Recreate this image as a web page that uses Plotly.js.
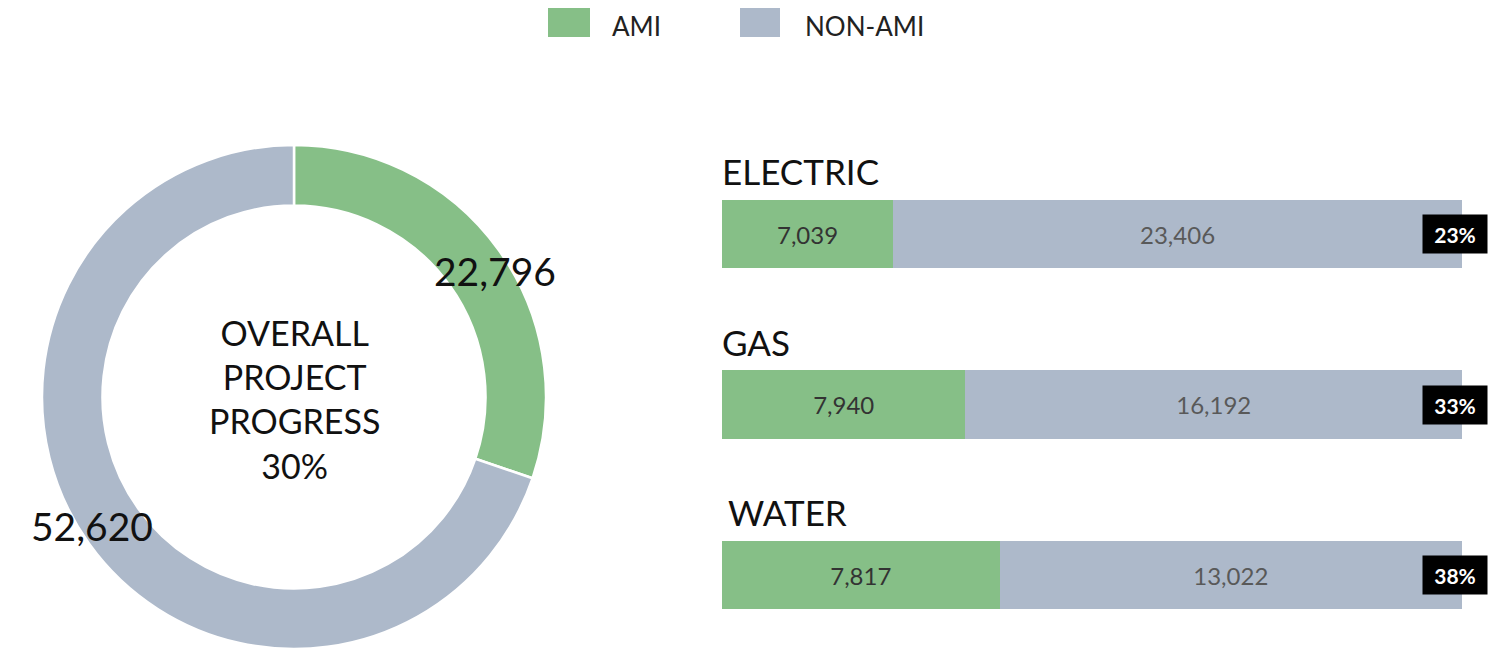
<!DOCTYPE html>
<html><head><meta charset="utf-8">
<script src="https://cdn.plot.ly/plotly-3.0.1.min.js"></script>
<style>html,body{margin:0;padding:0;background:#fff}#chart{width:1488px;height:650px}</style>
</head><body><div id="chart"></div>
<script>
// ---- data ----
const seriesNames = ['AMI', 'NON-AMI'];
const seriesColors = ['#86BF87', '#ADB9CA'];
const overallValues = [22796, 52620];
const overallTitle = ['OVERALL', 'PROJECT', 'PROGRESS'];
const categories = ['ELECTRIC', 'GAS', 'WATER'];
const amiValues = [7039, 7940, 7817];
const nonAmiValues = [23406, 16192, 13022];

// ---- helpers ----
const W = 1488, H = 650;
const px = x => x / W;
const py = y => 1 - y / H;
const fmt = v => v.toLocaleString('en-US');
const pct = (a, b) => Math.round(100 * a / (a + b)) + '%';
const FONT = 'Lato, "Open Sans", sans-serif';

const pie = {
  type: 'pie',
  values: overallValues,
  labels: seriesNames,
  marker: {colors: seriesColors, line: {color: '#ffffff', width: 2.5}},
  hole: 0.76,
  sort: false,
  direction: 'clockwise',
  rotation: 0,
  textinfo: 'none',
  showlegend: false,
  domain: {x: [px(24), px(564)], y: [py(649), py(145)]},
  hoverinfo: 'label+value'
};

const barAmi = {
  type: 'bar', orientation: 'h', name: seriesNames[0],
  y: categories, x: amiValues,
  text: amiValues.map(fmt), textposition: 'inside', insidetextanchor: 'middle', textangle: 0,
  textfont: {family: FONT, size: 24, color: '#333333'},
  marker: {color: seriesColors[0]}, width: 0.4, showlegend: false,
  hovertemplate: '%{y}: %{text}<extra>' + seriesNames[0] + '</extra>'
};
const barNon = {
  type: 'bar', orientation: 'h', name: seriesNames[1],
  y: categories, x: nonAmiValues,
  text: nonAmiValues.map(fmt), textposition: 'inside', insidetextanchor: 'middle', textangle: 0,
  textfont: {family: FONT, size: 24, color: '#595959'},
  marker: {color: seriesColors[1]}, width: 0.4, showlegend: false,
  hovertemplate: '%{y}: %{text}<extra>' + seriesNames[1] + '</extra>'
};

const annotations = [];
// donut center title
annotations.push({
  xref: 'paper', yref: 'paper', x: px(294), y: py(399), xanchor: 'center', yanchor: 'middle',
  text: overallTitle.join('<br>') + '<br>' + pct(overallValues[0], overallValues[1]),
  showarrow: false, font: {family: FONT, size: 34, color: '#111111'}
});
// donut value labels
annotations.push({
  xref: 'paper', yref: 'paper', x: px(495), y: py(271), xanchor: 'center', yanchor: 'middle',
  text: fmt(overallValues[0]), showarrow: false, font: {family: FONT, size: 39, color: '#111111'}
});
annotations.push({
  xref: 'paper', yref: 'paper', x: px(92), y: py(526), xanchor: 'center', yanchor: 'middle',
  text: fmt(overallValues[1]), showarrow: false, font: {family: FONT, size: 39, color: '#111111'}
});
// category titles and percentage boxes
categories.forEach((c, i) => {
  annotations.push({
    xref: 'x', yref: 'y', x: 0, y: c, xanchor: 'left', yanchor: 'middle', yshift: 63,
    xshift: i === 2 ? 4 : -2,
    text: c, showarrow: false, font: {family: FONT, size: 35, color: '#111111'}
  });
  annotations.push({
    xref: 'x', yref: 'y', x: 100, y: c, xanchor: 'center', yanchor: 'middle', xshift: -7,
    text: '<b>' + pct(amiValues[i], nonAmiValues[i]) + '</b>', showarrow: false,
    bgcolor: '#000000', width: 56, height: 30, borderpad: 4,
    font: {family: FONT, size: 21, color: '#ffffff'}
  });
});
// legend text
annotations.push({
  xref: 'paper', yref: 'paper', x: px(610), y: py(26), xanchor: 'left', yanchor: 'middle',
  text: seriesNames[0], showarrow: false, font: {family: FONT, size: 26, color: '#222222'}
});
annotations.push({
  xref: 'paper', yref: 'paper', x: px(803), y: py(26), xanchor: 'left', yanchor: 'middle',
  text: seriesNames[1], showarrow: false, font: {family: FONT, size: 26, color: '#222222'}
});

const shapes = [
  {type: 'rect', xref: 'paper', yref: 'paper', x0: px(548), x1: px(590), y0: py(37), y1: py(8),
   fillcolor: seriesColors[0], line: {width: 0}},
  {type: 'rect', xref: 'paper', yref: 'paper', x0: px(740), x1: px(780), y0: py(37), y1: py(8),
   fillcolor: seriesColors[1], line: {width: 0}}
];

const layout = {
  width: W, height: H,
  margin: {l: 0, r: 0, t: 0, b: 0, pad: 0},
  paper_bgcolor: '#ffffff', plot_bgcolor: '#ffffff',
  barmode: 'stack', barnorm: 'percent',
  showlegend: false,
  font: {family: FONT},
  xaxis: {domain: [px(722), px(1462)], range: [0, 100], visible: false, fixedrange: true},
  yaxis: {domain: [py(640), py(180)], range: [2 + 65 / 170.5, -54 / 170.5], visible: false, fixedrange: true,
          type: 'category'},
  annotations: annotations,
  shapes: shapes
};

Plotly.newPlot('chart', [pie, barAmi, barNon], layout, {displayModeBar: false});
</script>
</body></html>
